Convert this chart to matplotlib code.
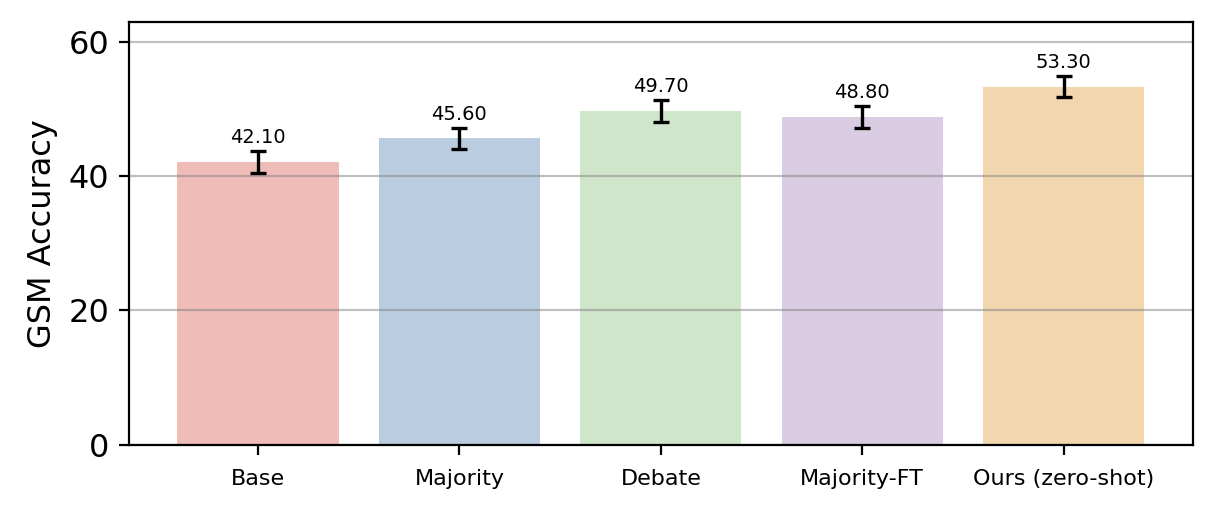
import numpy as np
import matplotlib
matplotlib.use("Agg")
import matplotlib.pyplot as plt

# data
methods = ['Base', 'Majority', 'Debate', 'Majority-FT', 'Ours (zero-shot)']
accuracy = [42.10, 45.60, 49.70, 48.80, 53.30]
errors = [1.6, 1.6, 1.6, 1.6, 1.6]
colors = ['#f0bcb8', '#bacde0', '#d0e6cb', '#dacde3', '#f2d6ae']

fig, ax = plt.subplots(figsize=(6.085, 2.565), dpi=200)
fig.subplots_adjust(left=0.106, right=0.980, top=0.957, bottom=0.1326)

x = np.arange(len(methods))
ax.bar(x, accuracy, width=0.8, color=colors, yerr=errors,
       error_kw=dict(capsize=3, elinewidth=1.2, capthick=1.2, ecolor='black'))

for xi, val, err in zip(x, accuracy, errors):
    ax.text(xi, val + err + 0.6, f'{val:.2f}', ha='center', va='bottom', fontsize=7)

ax.set_xticks(x)
ax.set_xticklabels(methods, fontsize=8)
ax.tick_params(axis='x', pad=5)
ax.set_ylabel('GSM Accuracy', fontsize=11.5)
ax.tick_params(axis='y', labelsize=11.5)
ax.set_yticks([0, 20, 40, 60])
ax.set_ylim(0, max(accuracy) * 1.18)
ax.grid(axis='y', color='gray', alpha=0.5)

fig.savefig('out.png', dpi=200)
